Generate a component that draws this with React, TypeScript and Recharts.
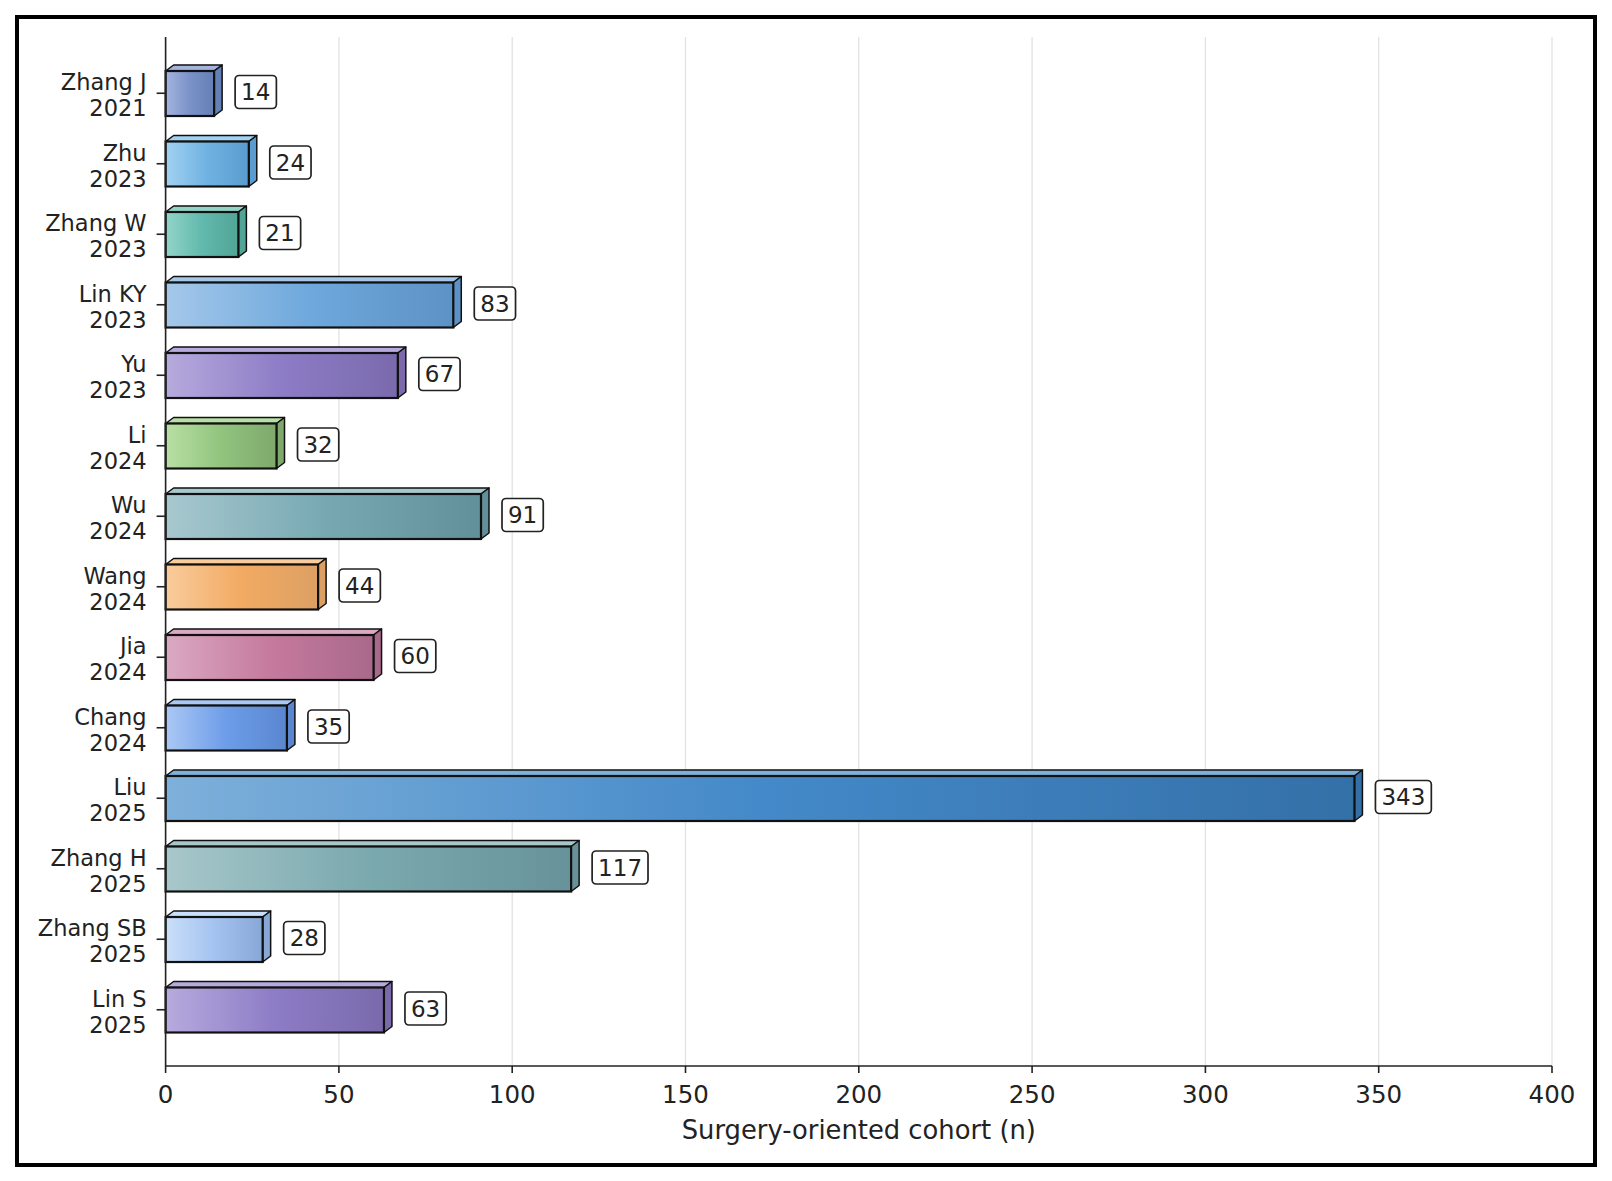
import { BarChart, Bar, XAxis, YAxis, CartesianGrid, LabelList } from 'recharts';

const authors = ['Zhang J', 'Zhu', 'Zhang W', 'Lin KY', 'Yu', 'Li', 'Wu', 'Wang', 'Jia', 'Chang', 'Liu', 'Zhang H', 'Zhang SB', 'Lin S'];
const years = ['2021', '2023', '2023', '2023', '2023', '2024', '2024', '2024', '2024', '2024', '2025', '2025', '2025', '2025'];
const cohortN = [14, 24, 21, 83, 67, 32, 91, 44, 60, 35, 343, 117, 28, 63];
const xTicks = [0, 50, 100, 150, 200, 250, 300, 350, 400];

// gradient stops per bar: light (left), base (middle), dark (right)
const lightColors = ['#a4b4df', '#a2d2f2', '#92d5c8', '#a5c8ea', '#b7aadd', '#b8dfa4', '#a8c8cf', '#f9cc9d', '#dba9c3', '#abc8f5', '#7eb0da', '#a8c7ca', '#cadff9', '#b7aadd'];
const baseColors = ['#7a92c8', '#6fb2e2', '#62b9ad', '#6ea8dc', '#8d7cc6', '#92c47e', '#78a9b3', '#f2aa62', '#c57a9e', '#6d9de8', '#4489c9', '#7aa9ae', '#a4c3f0', '#8d7cc6'];
const darkColors = ['#6580b6', '#5a9ccf', '#50a596', '#5d92c6', '#7a6aac', '#7ea96c', '#62909a', '#dca064', '#a9698a', '#5a86cf', '#3470a8', '#67929a', '#87a7d6', '#7a6aac'];

const data = authors.map((a, i) => ({ label: `${a}\n${years[i]}`, n: cohortN[i] }));

const FONT = '"DejaVu Sans", sans-serif';
const DX = 8;
const DY = 6;

const Bar3D = (props: any) => {
  const { x, y, width, height, index } = props;
  const x1 = x + width;
  return (
    <g>
      <polygon
        points={`${x},${y} ${x + DX},${y - DY} ${x1 + DX},${y - DY} ${x1},${y}`}
        fill={lightColors[index]}
        stroke="#111"
        strokeWidth={1.5}
        strokeLinejoin="round"
      />
      <polygon
        points={`${x1},${y} ${x1 + DX},${y - DY} ${x1 + DX},${y + height - DY} ${x1},${y + height}`}
        fill={darkColors[index]}
        stroke="#111"
        strokeWidth={1.5}
        strokeLinejoin="round"
      />
      <rect x={x} y={y} width={width} height={height} fill={`url(#g${index})`} stroke="#111" strokeWidth={2.2} />
    </g>
  );
};

const ValueBox = (props: any) => {
  const { x, y, width, height, value } = props;
  const txt = String(value);
  const tw = txt.length * 0.636 * 23;
  const bx = x + width + 21;
  const cy = y + height / 2 - 1.5;
  return (
    <g>
      <rect x={bx} y={cy - 16.5} width={tw + 12} height={33} rx={4} ry={4} fill="#fff" stroke="#222" strokeWidth={1.7} />
      <text x={bx + 6 + tw / 2} y={cy + 8.3} textAnchor="middle" fontSize={23} fontFamily={FONT} fill="#222">
        {txt}
      </text>
    </g>
  );
};

const YTick = (props: any) => {
  const { x, y, payload } = props;
  const [name, yr] = String(payload.value).split('\n');
  return (
    <text x={x} y={y} textAnchor="end" fontSize={22.5} fontFamily={FONT} fill="#222">
      <tspan x={x} dy={-3}>{name}</tspan>
      <tspan x={x} dy={26}>{yr}</tspan>
    </text>
  );
};

const XLabel = (props: any) => {
  const { viewBox } = props;
  return (
    <text x={viewBox.x + viewBox.width / 2} y={viewBox.y + 73} textAnchor="middle" fontSize={25.8} fontFamily={FONT} fill="#222">
      Surgery-oriented cohort (n)
    </text>
  );
};

export default function App() {
  return (
    <div style={{ position: 'absolute', left: 0, top: 0, width: 1612, height: 1181, background: '#fff' }}>
      <div
        style={{
          position: 'absolute',
          left: 15,
          top: 15,
          width: 1582,
          height: 1152,
          border: '4px solid #000',
          boxSizing: 'border-box',
        }}
      />
      <div style={{ position: 'absolute', left: 0, top: 0 }}>
        <BarChart
          width={1612}
          height={1181}
          data={data}
          layout="vertical"
          margin={{ top: 37, right: 60, bottom: 35, left: 15.6 }}
        >
          <defs>
            {authors.map((_, i) => (
              <linearGradient key={i} id={`g${i}`} x1="0" y1="0" x2="1" y2="0">
                <stop offset="0%" stopColor={lightColors[i]} />
                <stop offset="50%" stopColor={baseColors[i]} />
                <stop offset="100%" stopColor={darkColors[i]} />
              </linearGradient>
            ))}
          </defs>
          <CartesianGrid horizontal={false} stroke="#e2e2e2" strokeWidth={1.3} />
          <XAxis
            type="number"
            domain={[0, 400]}
            ticks={xTicks}
            height={80}
            tickSize={7}
            tickMargin={13}
            axisLine={{ stroke: '#222', strokeWidth: 1.6 }}
            tickLine={{ stroke: '#222', strokeWidth: 1.6 }}
            tick={{ fontSize: 24.5, fontFamily: FONT, fill: '#222' }}
            label={<XLabel />}
          />
          <YAxis
            type="category"
            dataKey="label"
            width={150}
            padding={{ top: 21, bottom: 21 }}
            tickSize={9}
            tickMargin={10}
            axisLine={{ stroke: '#222', strokeWidth: 1.6 }}
            tickLine={{ stroke: '#222', strokeWidth: 1.6 }}
            tick={<YTick />}
            interval={0}
          />
          <Bar dataKey="n" barSize={45} shape={<Bar3D />} isAnimationActive={false}>
            <LabelList dataKey="n" content={<ValueBox />} />
          </Bar>
        </BarChart>
      </div>
    </div>
  );
}
